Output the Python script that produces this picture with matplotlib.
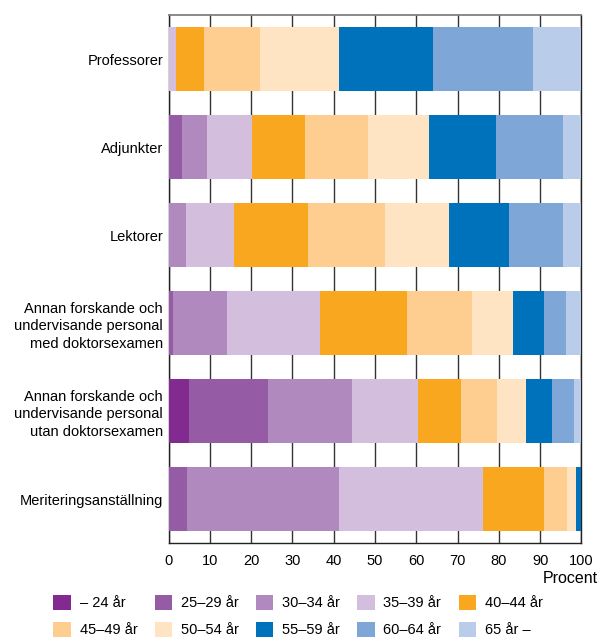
import matplotlib.pyplot as plt
import numpy as np

plt.rcParams['font.family'] = ['Liberation Sans', 'DejaVu Sans']

categories = [
    "Professorer",
    "Adjunkter",
    "Lektorer",
    "Annan forskande och\nundervisande personal\nmed doktorsexamen",
    "Annan forskande och\nundervisande personal\nutan doktorsexamen",
    "Meriteringsanställning",
]

age_groups = ["– 24 år", "25–29 år", "30–34 år", "35–39 år", "40–44 år",
              "45–49 år", "50–54 år", "55–59 år", "60–64 år", "65 år –"]

colors = ["#832a91", "#955ca5", "#b089bf", "#d3bede", "#f8a71e",
          "#fdce90", "#fee4c2", "#0072bb", "#7ea7d8", "#b9cdea"]

# procent per kategori, en lista per åldersgrupp
u24 = [0.0, 0.0, 0.0, 0.0, 4.9, 0.0]
a25_29 = [0.0, 3.2, 0.0, 1.0, 19.1, 4.4]
a30_34 = [0.0, 6.1, 4.2, 13.1, 20.4, 36.8]
a35_39 = [1.8, 10.9, 11.6, 22.5, 16.0, 34.9]
a40_44 = [6.8, 12.8, 18.0, 21.1, 10.4, 14.8]
a45_49 = [13.6, 15.3, 18.7, 15.8, 8.7, 5.6]
a50_54 = [19.1, 14.8, 15.5, 9.9, 7.0, 2.2]
a55_59 = [22.8, 16.2, 14.5, 7.5, 6.3, 1.1]
a60_64 = [24.1, 16.2, 13.1, 5.3, 5.3, 0.1]
o65 = [11.8, 4.5, 4.4, 3.8, 1.8, 0.1]

series = [u24, a25_29, a30_34, a35_39, a40_44, a45_49, a50_54, a55_59, a60_64, o65]

fig = plt.figure(figsize=(6.0, 6.39), dpi=100)
ax = fig.add_axes([0.281, 0.1502, 0.688, 0.8263])

y = np.arange(len(categories))
left = np.zeros(len(categories))
for vals, col, lab in zip(series, colors, age_groups):
    ax.barh(y, vals, left=left, height=0.727, color=col, label=lab, zorder=3)
    left += np.array(vals)

ax.set_xlim(0, 100)
ax.set_ylim(5.5, -0.5)
ax.set_xticks(np.arange(0, 101, 10))
ax.set_yticks(y)
ax.set_yticklabels(categories, fontsize=10.5, linespacing=1.35)
ax.tick_params(axis='x', length=0, labelsize=10.5, pad=8)
ax.tick_params(axis='y', length=0, pad=4)
ax.grid(axis='x', color='#333333', linewidth=1.0, zorder=0)

for s in ['left', 'right', 'bottom']:
    ax.spines[s].set_color('#222222')
    ax.spines[s].set_linewidth(1.0)
ax.spines['top'].set_color('#808080')
ax.spines['top'].set_linewidth(1.3)

fig.text(0.997, 0.094, "Procent", ha='right', va='center', fontsize=11.5)

handles, labels = ax.get_legend_handles_labels()
order = [0, 5, 1, 6, 2, 7, 3, 8, 4, 9]
fig.legend([handles[i] for i in order], [labels[i] for i in order],
           ncol=5, loc='lower left', bbox_to_anchor=(0.084, -0.002),
           frameon=False, fontsize=10.5, handlelength=1.2, handleheight=1.2,
           handletextpad=0.6, columnspacing=1.18, labelspacing=0.8,
           borderpad=0.2, borderaxespad=0)

fig.savefig("out.png", dpi=100)
